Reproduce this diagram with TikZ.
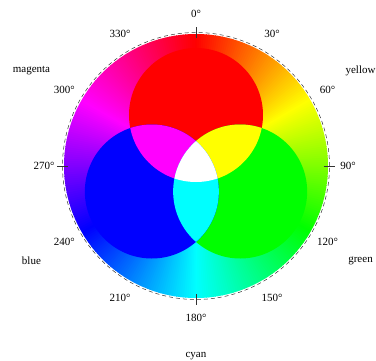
\documentclass[tikz,border=0pt]{standalone}
\usepackage{fontspec}
\setmainfont{Liberation Serif}
\usepackage{tikz}
\definecolor{PureRed}{RGB}{255, 0, 0}
\definecolor{PureGreen}{RGB}{0, 255, 0}
\definecolor{PureBlue}{RGB}{0, 0, 255}
\definecolor{PureYellow}{RGB}{255, 255, 0}
\definecolor{PureMagenta}{RGB}{255, 0, 255}
\definecolor{PureCyan}{RGB}{0, 255, 255}

\begin{document}
\begin{tikzpicture}[
        x=1pt, y=1pt,
        anglabel/.style={
            inner sep=1pt,
            font=\fontsize{11}{13}\selectfont
        },
        colorlabel/.style={
            inner sep=1pt,
            font=\fontsize{11}{13}\selectfont
        },
        ring/.style={
            draw=black!80,
            line width=0.5pt,
            dash pattern=on 4pt off 3pt
        },
        tickmark/.style={
            draw=black!80,
            line width=0.6pt
        }
    ]
        \useasboundingbox (-196,-194) rectangle (180,166);

        % Hue wheel, red at the top, turning clockwise
        \foreach \a in {0,...,359} {
            \definecolor{huecol}{Hsb}{\a,1,1}
            \fill[huecol] (0,0) -- (90-\a+0.7:132) arc[start angle=90-\a+0.7, end angle=90-\a-0.7, radius=132] -- cycle;
        }

        % Centres of the three primary circles
        \coordinate (cR) at (90:51);
        \coordinate (cG) at (-30:51);
        \coordinate (cB) at (210:51);

        \fill[PureRed] (cR) circle (67);
        \fill[PureGreen] (cG) circle (67);
        \fill[PureBlue] (cB) circle (67);

        % Overlaps
        \begin{scope}
            \clip (cR) circle (67);
            \fill[PureYellow] (cG) circle (67);
            \fill[PureMagenta] (cB) circle (67);
        \end{scope}
        \begin{scope}
            \clip (cG) circle (67);
            \fill[PureCyan] (cB) circle (67);
        \end{scope}
        \begin{scope}
            \clip (cR) circle (67);
            \clip (cG) circle (67);
            \fill[white] (cB) circle (67);
        \end{scope}

        % Outer dashed ring and ticks
        \draw[ring] (0,0) circle (133.5);
        \foreach \a in {0,90,180,270}
            \draw[tickmark] (90-\a:128) -- (90-\a:139);

        % Angle labels
        \foreach \a in {0,30,...,330}
            \node[anglabel] (deg\a) at (90-\a:152) {\a°};

        % Colour names
        \foreach \a/\name in {60/yellow, 120/green, 180/cyan, 240/blue, 300/magenta}
            \node[colorlabel] (lbl\name) at (90-\a:190) {\name};
    \end{tikzpicture}
\end{document}
